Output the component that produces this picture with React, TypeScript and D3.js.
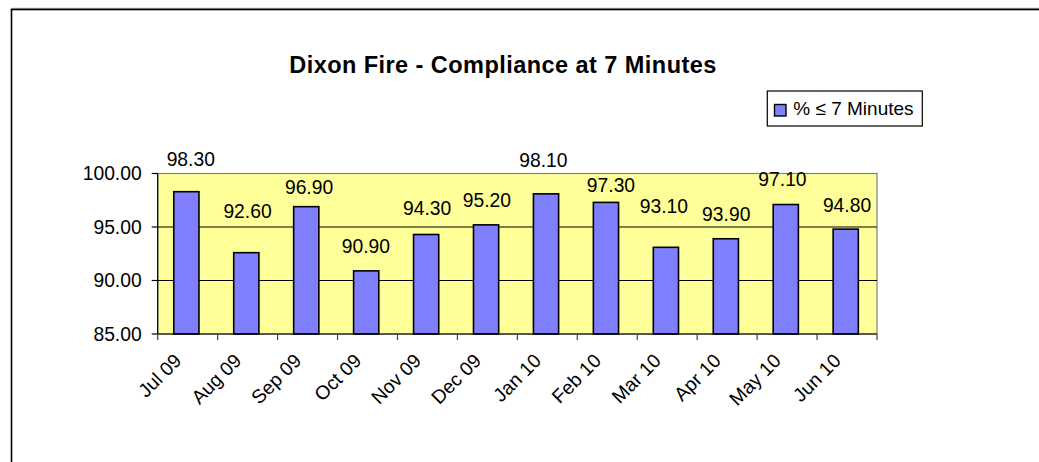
import React from "react";
import * as d3 from "d3";

// chart values
const months = ["Jul 09", "Aug 09", "Sep 09", "Oct 09", "Nov 09", "Dec 09", "Jan 10", "Feb 10", "Mar 10", "Apr 10", "May 10", "Jun 10"];
const compliance = [98.3, 92.6, 96.9, 90.9, 94.3, 95.2, 98.1, 97.3, 93.1, 93.9, 97.1, 94.8];
const yTicks = [85, 90, 95, 100];
const seriesName = "% \u2264 7 Minutes";
const title = "Dixon Fire - Compliance at 7 Minutes";

// hand-placed data label nudges (label baseline vs bar top, label centre vs band centre)
const labelDx = [3.1, -0.1, 1.5, -1.6, -0.3, -0.5, -3.9, 3.7, -3.3, -0.9, -4.6, 0];
const labelDy = [-25.7, -34.4, -12.7, -18.3, -19, -18.3, -27, -10, -34, -17.3, -18.3, -17.3];

const FONT = "'Liberation Sans', Arial, sans-serif";

const App = () => {
  const W = 1039;
  const H = 462;
  const plot = { left: 157.7, right: 877, top: 173.5, bottom: 334 };

  const x = d3
    .scaleBand<string>()
    .domain(months)
    .range([plot.left, plot.right])
    .paddingInner(0.58)
    .paddingOuter(0.29);

  const step = x.step();

  const y = d3.scaleLinear().domain([85, 100]).range([plot.bottom, plot.top]);

  return (
    <svg
      width={W}
      height={H}
      style={{ position: "absolute", left: 0, top: 0, background: "#fff" }}
      fontFamily={FONT}
    >
      {/* outer frame */}
      <line x1={11} x2={W} y1={8.3} y2={8.3} stroke="#999" strokeWidth={1} />
      <rect x={11.5} y={9.5} width={W + 20} height={H + 20} fill="none" stroke="#000" strokeWidth={1.6} />

      {/* title */}
      <text x={503} y={73.3} textAnchor="middle" fontSize={23.5} fontWeight="bold" letterSpacing={0.45}>
        {title}
      </text>

      {/* plot area */}
      <rect
        x={plot.left}
        y={plot.top}
        width={plot.right - plot.left}
        height={plot.bottom - plot.top}
        fill="#FFFF99"
        stroke="#808080"
        strokeWidth={1.2}
      />

      {/* gridlines */}
      {yTicks
        .filter((t) => t !== 85 && t !== 100)
        .map((t) => (
          <line key={t} x1={plot.left} x2={plot.right} y1={y(t)} y2={y(t)} stroke="#000" strokeWidth={1} />
        ))}

      {/* bars */}
      {compliance.map((v, i) => (
        <rect
          key={months[i]}
          x={(x(months[i]) ?? 0) - 1.3}
          y={y(v)}
          width={x.bandwidth()}
          height={plot.bottom - y(v)}
          fill="#8080FF"
          stroke="#000"
          strokeWidth={1.6}
        />
      ))}

      {/* y axis */}
      <line x1={plot.left} x2={plot.left} y1={plot.top} y2={plot.bottom} stroke="#000" strokeWidth={1.2} />
      {yTicks.map((t) => (
        <g key={t}>
          <line x1={plot.left - 6} x2={plot.left} y1={y(t)} y2={y(t)} stroke="#000" strokeWidth={1.2} />
          <text x={141.7} y={y(t)} dy="0.35em" textAnchor="end" fontSize={19.3}>
            {t.toFixed(2)}
          </text>
        </g>
      ))}

      {/* x axis */}
      <line x1={plot.left} x2={plot.right} y1={plot.bottom} y2={plot.bottom} stroke="#000" strokeWidth={1.2} />
      {d3.range(months.length + 1).map((i) => {
        const tx = plot.left + i * step;
        return <line key={i} x1={tx} x2={tx} y1={plot.bottom} y2={plot.bottom + 6} stroke="#444" strokeWidth={1.2} />;
      })}
      {months.map((m) => {
        const cx = (x(m) ?? 0) + x.bandwidth() / 2 - 5;
        const cy = 362;
        return (
          <text key={m} x={cx} y={cy} textAnchor="end" fontSize={19.3} transform={`rotate(-45, ${cx}, ${cy})`}>
            {m}
          </text>
        );
      })}

      {/* data labels */}
      {compliance.map((v, i) => (
        <text
          key={`l-${months[i]}`}
          x={(x(months[i]) ?? 0) + x.bandwidth() / 2 + labelDx[i]}
          y={y(v) + labelDy[i]}
          textAnchor="middle"
          fontSize={19.3}
        >
          {v.toFixed(2)}
        </text>
      ))}

      {/* legend */}
      <rect x={767.3} y={91} width={155} height={35} fill="#fff" stroke="#000" strokeWidth={1.2} />
      <rect x={774.5} y={104.5} width={11.5} height={11.5} fill="#8080FF" stroke="#000" strokeWidth={1.4} />
      <text x={793.3} y={115} fontSize={19}>
        {seriesName}
      </text>
    </svg>
  );
};

export default App;
